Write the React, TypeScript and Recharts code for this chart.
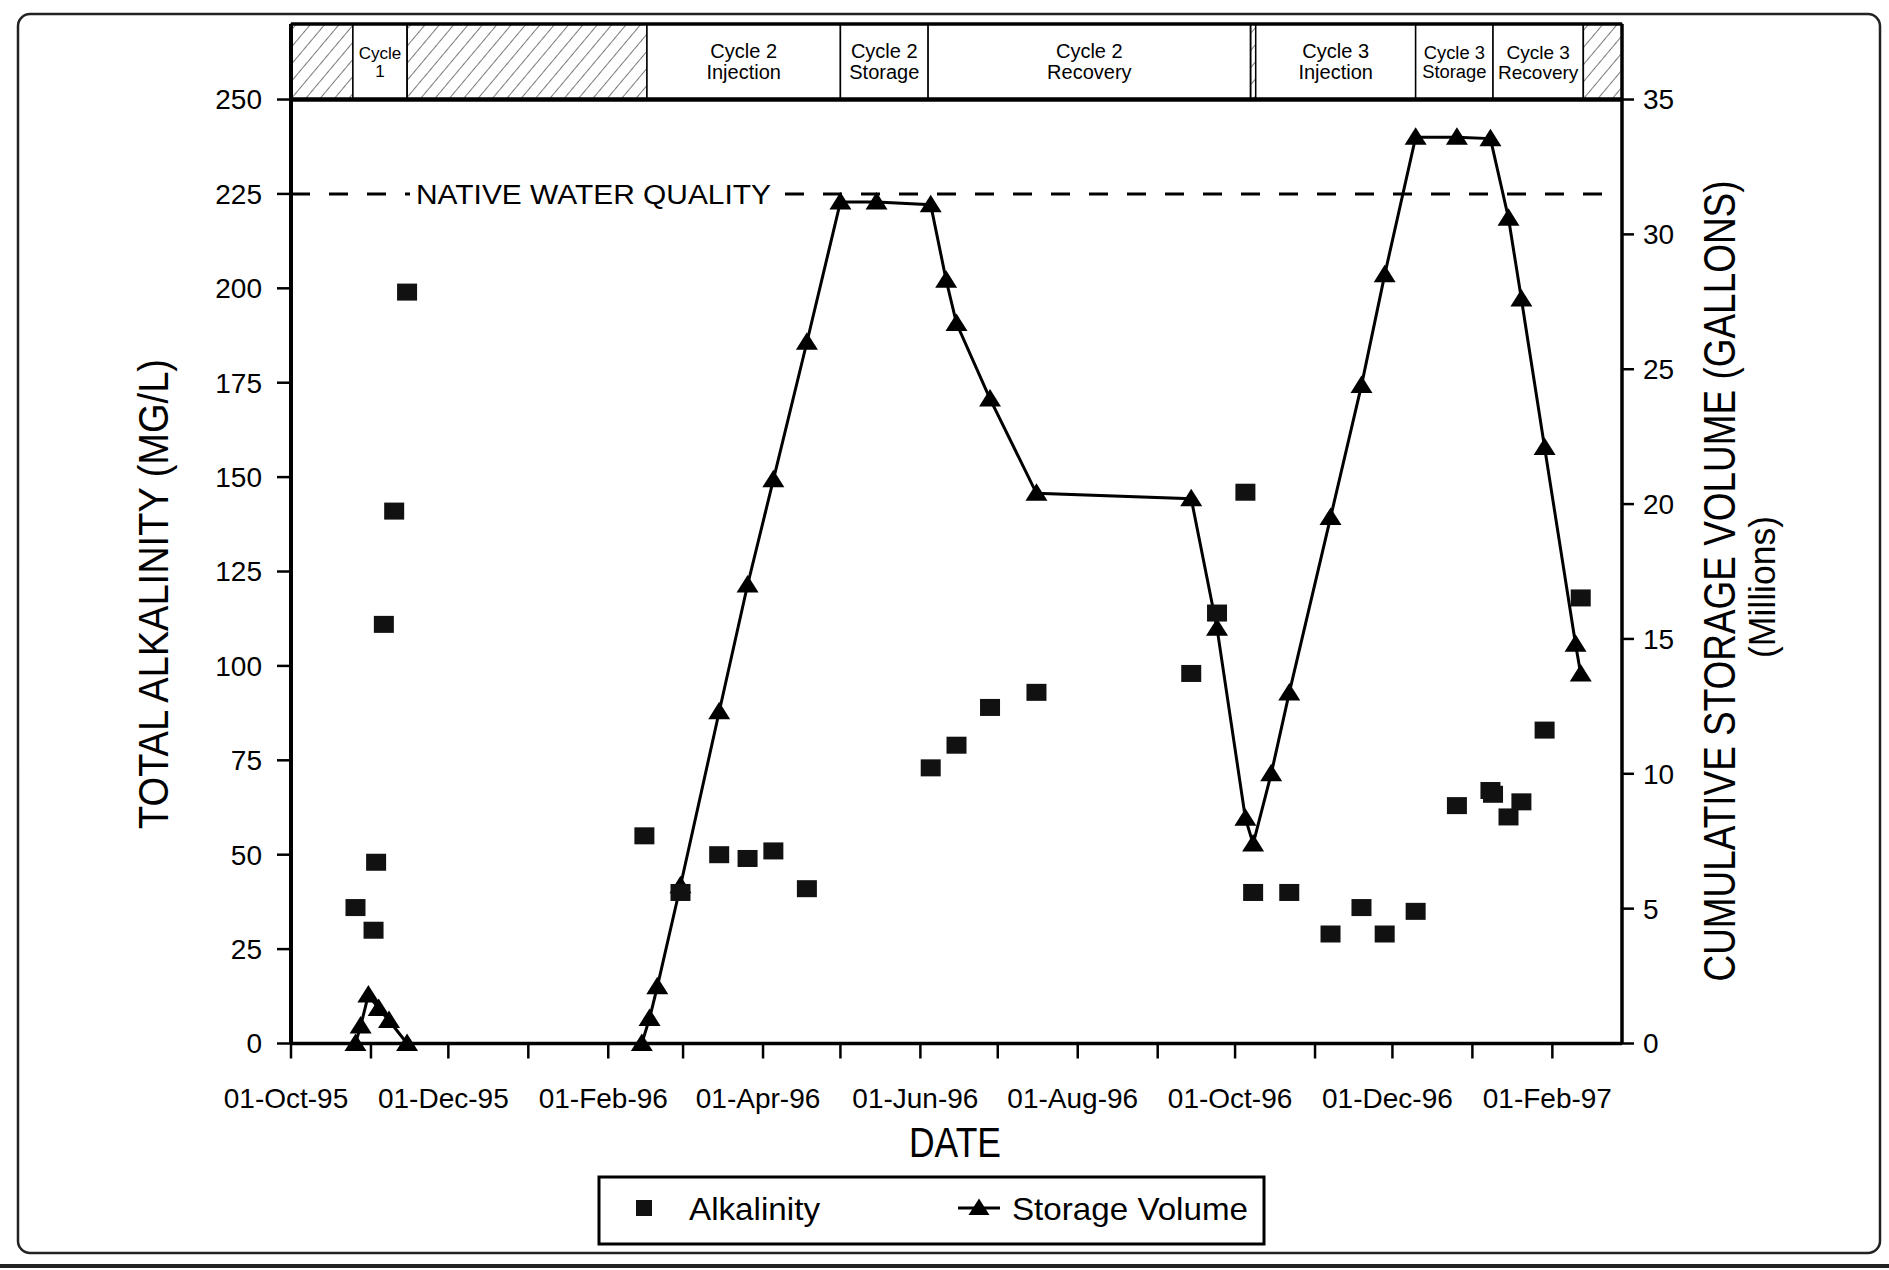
import React from 'react';
import {
  ComposedChart,
  Line,
  Scatter,
  XAxis,
  YAxis,
  ReferenceArea,
  ReferenceLine,
} from 'recharts';

// alkalinity samples (mg/L)
const alkalinityDates = [
  '1995-10-26', '1995-11-02', '1995-11-03', '1995-11-06', '1995-11-10', '1995-11-15',
  '1996-02-15', '1996-02-29', '1996-03-15', '1996-03-26', '1996-04-05', '1996-04-18',
  '1996-06-05', '1996-06-15', '1996-06-28', '1996-07-16',
  '1996-09-14', '1996-09-24', '1996-10-05', '1996-10-08', '1996-10-22',
  '1996-11-07', '1996-11-19', '1996-11-28', '1996-12-10', '1996-12-26',
  '1997-01-08', '1997-01-09', '1997-01-15', '1997-01-20', '1997-01-29', '1997-02-12',
];
const alkalinityValues = [
  36, 30, 48, 111, 141, 199,
  55, 40, 50, 49, 51, 41,
  73, 79, 89, 93,
  98, 114, 146, 40, 40,
  29, 36, 29, 35, 63,
  67, 66, 60, 64, 83, 118,
];

// cumulative storage volume (million gallons)
const storageDates = [
  '1995-10-26', '1995-10-28', '1995-10-31', '1995-11-04', '1995-11-08', '1995-11-15',
  '1996-02-14', '1996-02-17', '1996-02-20', '1996-02-29', '1996-03-15', '1996-03-26',
  '1996-04-05', '1996-04-18', '1996-05-01', '1996-05-15', '1996-06-05', '1996-06-11',
  '1996-06-15', '1996-06-28', '1996-07-16', '1996-09-14', '1996-09-24', '1996-10-05',
  '1996-10-08', '1996-10-15', '1996-10-22', '1996-11-07', '1996-11-19', '1996-11-28',
  '1996-12-10', '1996-12-26', '1997-01-08', '1997-01-15', '1997-01-20', '1997-01-29',
  '1997-02-10', '1997-02-12',
];
const storageVolumes = [
  0, 0.65, 1.8, 1.3, 0.85, 0,
  0, 0.93, 2.1, 5.85, 12.3, 17.0,
  20.9, 26.0, 31.2, 31.2, 31.1, 28.3,
  26.7, 23.9, 20.4, 20.2, 15.4, 8.35,
  7.4, 10.0, 13.0, 19.5, 24.4, 28.5,
  33.6, 33.6, 33.55, 30.6, 27.6, 22.1,
  14.8, 13.7,
];

// operating phases shown in the strip above the plot (empty = hatched)
const phaseStarts = [
  '1995-10-01', '1995-10-25', '1995-11-15', '1996-02-16', '1996-05-01', '1996-06-04',
  '1996-10-07', '1996-10-09', '1996-12-10', '1997-01-09', '1997-02-13',
];
const phaseEnds = [
  '1995-10-25', '1995-11-15', '1996-02-16', '1996-05-01', '1996-06-04', '1996-10-07',
  '1996-10-09', '1996-12-10', '1997-01-09', '1997-02-13', '1997-02-28',
];
const phaseLabels: string[][] = [
  [], ['Cycle', '1'], [], ['Cycle 2', 'Injection'], ['Cycle 2', 'Storage'], ['Cycle 2', 'Recovery'],
  [], ['Cycle 3', 'Injection'], ['Cycle 3', 'Storage'], ['Cycle 3', 'Recovery'], [],
];

const monthTicks = [
  '1995-10-01', '1995-11-01', '1995-12-01', '1996-01-01', '1996-02-01', '1996-03-01',
  '1996-04-01', '1996-05-01', '1996-06-01', '1996-07-01', '1996-08-01', '1996-09-01',
  '1996-10-01', '1996-11-01', '1996-12-01', '1997-01-01', '1997-02-01',
];
const labelledMonths = [
  '1995-10-01', '1995-12-01', '1996-02-01', '1996-04-01', '1996-06-01',
  '1996-08-01', '1996-10-01', '1996-12-01', '1997-02-01',
];
const alkalinityTicks = [0, 25, 50, 75, 100, 125, 150, 175, 200, 225, 250];
const storageTicks = [0, 5, 10, 15, 20, 25, 30, 35];
const nativeWaterQuality = 225;
const axisStart = '1995-10-01';
const axisEnd = '1997-02-28';

const FONT = '"Liberation Sans", Arial, Helvetica, sans-serif';
const W = 1889;
const H = 1270;

// the phase strip sits on top of the 250 line, on the same scale
const LEFT_TOP = 270;
const RIGHT_TOP = (35 * LEFT_TOP) / 250;

const MON = ['Jan', 'Feb', 'Mar', 'Apr', 'May', 'Jun', 'Jul', 'Aug', 'Sep', 'Oct', 'Nov', 'Dec'];
const toTime = (d: string) => Date.parse(d + 'T00:00:00Z');
const fmtDate = (t: number) => {
  const d = new Date(t);
  return `${String(d.getUTCDate()).padStart(2, '0')}-${MON[d.getUTCMonth()]}-${String(d.getUTCFullYear()).slice(2)}`;
};
const labelled = new Set(labelledMonths.map(toTime));

const alkalinityData = alkalinityDates.map((d, i) => ({ t: toTime(d), alk: alkalinityValues[i] }));
const storageData = storageDates.map((d, i) => ({ t: toTime(d), vol: storageVolumes[i] }));

const Square = (props: any) => {
  const { cx, cy } = props;
  if (cx == null || cy == null) return <g />;
  return <rect x={cx - 10} y={cy - 8.5} width={20} height={17} fill="#111" />;
};

const Triangle = (props: any) => {
  const { cx, cy, index } = props;
  if (cx == null || cy == null) return <g key={index} />;
  return (
    <path
      key={index}
      d={`M${cx},${cy - 10}L${cx + 11},${cy + 7.5}L${cx - 11},${cy + 7.5}Z`}
      fill="#000"
    />
  );
};

const PhaseLabel = (props: any) => {
  const { viewBox, lines } = props;
  if (!viewBox || !lines || !lines.length) return null;
  const { x, y, width, height } = viewBox;
  const longest = Math.max(...lines.map((l: string) => l.length));
  const size = Math.min(20, (width - 8) / (0.54 * longest));
  const cx = x + width / 2;
  const cy = y + height / 2;
  return (
    <text textAnchor="middle" fontFamily={FONT} fontSize={size} fill="#000">
      {lines.map((l: string, i: number) => (
        <tspan key={i} x={cx} y={cy + (i - (lines.length - 1) / 2) * size * 1.05} dy="0.36em">
          {l}
        </tspan>
      ))}
    </text>
  );
};

const NativeLabel = (props: any) => {
  const { viewBox } = props;
  if (!viewBox) return null;
  const x = viewBox.x + 125;
  const y = viewBox.y;
  return (
    <g>
      <rect x={x - 6} y={y - 16} width={367} height={32} fill="#fff" />
      <text
        x={x}
        y={y}
        dy="0.36em"
        fontFamily={FONT}
        fontSize={27}
        fill="#000"
        textLength={355}
        lengthAdjust="spacingAndGlyphs"
      >
        NATIVE WATER QUALITY
      </text>
    </g>
  );
};

const tickStyle = { fill: '#000', fontSize: 28, fontFamily: FONT };

export default function App() {
  return (
    <div style={{ position: 'absolute', left: 0, top: 0, width: W, height: H, background: '#fff' }}>
      <ComposedChart width={W} height={H} margin={{ top: 24, right: 187, bottom: 166.5, left: 211 }}>
        <defs>
          <pattern id="hatch" width="11" height="11" patternUnits="userSpaceOnUse" patternTransform="rotate(40)">
            <line x1="0" y1="0" x2="0" y2="11" stroke="#333" strokeWidth="1.3" />
          </pattern>
        </defs>
        <XAxis
          dataKey="t"
          type="number"
          domain={[toTime(axisStart), toTime(axisEnd)]}
          ticks={monthTicks.map(toTime)}
          interval={0}
          tickFormatter={(t: number) => (labelled.has(t) ? fmtDate(t) : '')}
          height={60}
          tickSize={15}
          tickMargin={30}
          axisLine={{ stroke: '#000', strokeWidth: 3.5 }}
          tickLine={{ stroke: '#000', strokeWidth: 2.5 }}
          tick={{ ...tickStyle, dx: -5 }}
        />
        <YAxis
          yAxisId="left"
          domain={[0, LEFT_TOP]}
          ticks={alkalinityTicks}
          interval={0}
          width={80}
          tickSize={14}
          tickMargin={15}
          axisLine={{ stroke: '#000', strokeWidth: 4 }}
          tickLine={{ stroke: '#000', strokeWidth: 2.5 }}
          tick={tickStyle}
        />
        <YAxis
          yAxisId="right"
          orientation="right"
          domain={[0, RIGHT_TOP]}
          ticks={storageTicks}
          interval={0}
          width={80}
          tickSize={12}
          tickMargin={9}
          axisLine={{ stroke: '#000', strokeWidth: 3.5 }}
          tickLine={{ stroke: '#000', strokeWidth: 2.5 }}
          tick={tickStyle}
        />
        {phaseStarts.map((s, i) => (
          <ReferenceArea
            key={s}
            yAxisId="left"
            x1={toTime(s)}
            x2={toTime(phaseEnds[i])}
            y1={250}
            y2={LEFT_TOP}
            fill={phaseLabels[i].length ? '#fff' : 'url(#hatch)'}
            fillOpacity={1}
            stroke="#000"
            strokeWidth={1.5}
            label={<PhaseLabel lines={phaseLabels[i]} />}
          />
        ))}
        <ReferenceLine yAxisId="left" y={250} stroke="#000" strokeWidth={4.5} />
        <ReferenceLine yAxisId="left" y={LEFT_TOP} stroke="#000" strokeWidth={3.5} />
        <ReferenceLine
          yAxisId="left"
          y={nativeWaterQuality}
          stroke="#000"
          strokeWidth={3}
          strokeDasharray="19 19"
          label={<NativeLabel />}
        />
        <Line
          yAxisId="right"
          data={storageData}
          dataKey="vol"
          type="linear"
          stroke="#000"
          strokeWidth={3}
          dot={Triangle}
          activeDot={false}
          isAnimationActive={false}
        />
        <Scatter
          yAxisId="left"
          data={alkalinityData}
          dataKey="alk"
          shape={Square}
          isAnimationActive={false}
        />
      </ComposedChart>

      <svg
        width={W}
        height={H}
        style={{ position: 'absolute', left: 0, top: 0, pointerEvents: 'none' }}
        fontFamily={FONT}
      >
        <rect x={18} y={14} width={1862} height={1239} rx={12} fill="none" stroke="#222" strokeWidth={2.5} />
        <line x1={0} y1={1266} x2={W} y2={1266} stroke="#222" strokeWidth={4} />

        <text
          transform="translate(153,594) rotate(-90)"
          textAnchor="middle"
          dy="0.36em"
          fontSize={42}
          textLength={470}
          lengthAdjust="spacingAndGlyphs"
        >
          TOTAL ALKALINITY (MG/L)
        </text>
        <text
          transform="translate(1719,581) rotate(-90)"
          textAnchor="middle"
          dy="0.36em"
          fontSize={44}
          textLength={801}
          lengthAdjust="spacingAndGlyphs"
        >
          CUMULATIVE STORAGE VOLUME (GALLONS)
        </text>
        <text
          transform="translate(1762,587) rotate(-90)"
          textAnchor="middle"
          dy="0.36em"
          fontSize={36}
          textLength={142}
          lengthAdjust="spacingAndGlyphs"
        >
          (Millions)
        </text>
        <text x={955} y={1142} dy="0.36em" textAnchor="middle" fontSize={42} textLength={92} lengthAdjust="spacingAndGlyphs">
          DATE
        </text>

        <rect x={599} y={1177} width={665} height={67} fill="#fff" stroke="#000" strokeWidth={3} />
        <rect x={636} y={1200} width={16} height={16} fill="#111" />
        <text x={689} y={1208} dy="0.36em" fontSize={32} textLength={131} lengthAdjust="spacingAndGlyphs">
          Alkalinity
        </text>
        <line x1={958} y1={1208} x2={1000} y2={1208} stroke="#000" strokeWidth={3} />
        <path d="M979,1198.5L989.5,1215L968.5,1215Z" fill="#000" />
        <text x={1012} y={1208} dy="0.36em" fontSize={32} textLength={236} lengthAdjust="spacingAndGlyphs">
          Storage Volume
        </text>
      </svg>
    </div>
  );
}
